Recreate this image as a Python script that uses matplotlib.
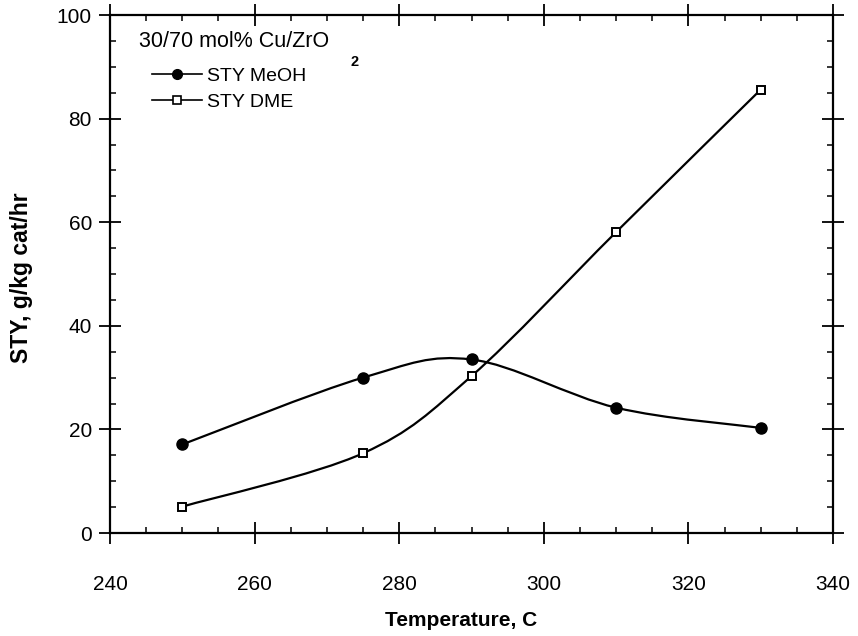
import numpy as np
import matplotlib.pyplot as plt
from matplotlib.path import Path
from matplotlib.patches import PathPatch
from matplotlib.lines import Line2D
from matplotlib.ticker import MultipleLocator

plt.rcParams['font.family'] = ['Liberation Sans', 'DejaVu Sans']

temperature = [250, 275, 290, 310, 330]
sty_meoh = [17.1, 30.0, 33.5, 24.2, 20.3]
sty_dme = [5.1, 15.4, 30.3, 58.1, 85.6]


def smooth_path(x, y):
    # Catmull-Rom through the points, turned into cubic Bezier segments
    pts = np.column_stack([x, y]).astype(float)
    p = np.vstack([pts[0], pts, pts[-1]])
    verts = [tuple(pts[0])]
    codes = [Path.MOVETO]
    for i in range(1, len(p) - 2):
        c1 = p[i] + (p[i + 1] - p[i - 1]) / 6.0
        c2 = p[i + 1] - (p[i + 2] - p[i]) / 6.0
        verts += [tuple(c1), tuple(c2), tuple(p[i + 1])]
        codes += [Path.CURVE4] * 3
    return Path(verts, codes)


fig = plt.figure(figsize=(8.58, 6.36), dpi=100)
ax = fig.add_axes([0.1282, 0.1619, 0.8427, 0.8145])

for yv in (sty_meoh, sty_dme):
    ax.add_patch(PathPatch(smooth_path(temperature, yv), fill=False,
                           edgecolor='black', linewidth=1.6))

ax.plot(temperature, sty_meoh, linestyle='none', marker='o', markersize=8,
        color='black')
ax.plot(temperature, sty_dme, linestyle='none', marker='s', markersize=6,
        markerfacecolor='white', markeredgecolor='black', markeredgewidth=1.4)

ax.set_xlim(240, 340)
ax.set_ylim(0, 100)
ax.xaxis.set_major_locator(MultipleLocator(20))
ax.xaxis.set_minor_locator(MultipleLocator(5))
ax.yaxis.set_major_locator(MultipleLocator(20))
ax.yaxis.set_minor_locator(MultipleLocator(5))

for s in ax.spines.values():
    s.set_linewidth(1.6)

ax.tick_params(which='major', direction='inout', length=16, width=1.3,
               top=True, right=True, labelsize=15)
ax.tick_params(which='minor', direction='in', length=4, width=1.1,
               top=True, right=True)
ax.tick_params(axis='x', which='major', pad=22)
ax.tick_params(axis='y', which='major', pad=5)

ax.set_xlabel('Temperature, C', fontsize=15, fontweight='bold', va='center')
ax.set_ylabel('STY, g/kg cat/hr', fontsize=16.5, fontweight='bold',
              va='center')
ax.yaxis.set_label_coords(-0.122, 0.492)
ax.xaxis.set_label_coords(0.486, -0.168)

ax.text(0.040, 0.948, '30/70 mol% Cu/ZrO', transform=ax.transAxes,
        fontsize=15.5, va='center', ha='left')
ax.text(0.333, 0.909, '2', transform=ax.transAxes,
        fontsize=10.5, va='center', ha='left', fontweight='bold')

handles = [
    Line2D([], [], color='black', linewidth=1.2, marker='o', markersize=7),
    Line2D([], [], color='black', linewidth=1.2, marker='s', markersize=5.5,
           markerfacecolor='white', markeredgewidth=1.2),
]
ax.legend(handles, ['STY MeOH', 'STY DME'], loc='upper left',
          bbox_to_anchor=(0.058, 0.899), frameon=False, fontsize=14,
          handlelength=2.6, handletextpad=0.25, labelspacing=0.42,
          borderpad=0, borderaxespad=0)

fig.savefig('out.png', dpi=100)
